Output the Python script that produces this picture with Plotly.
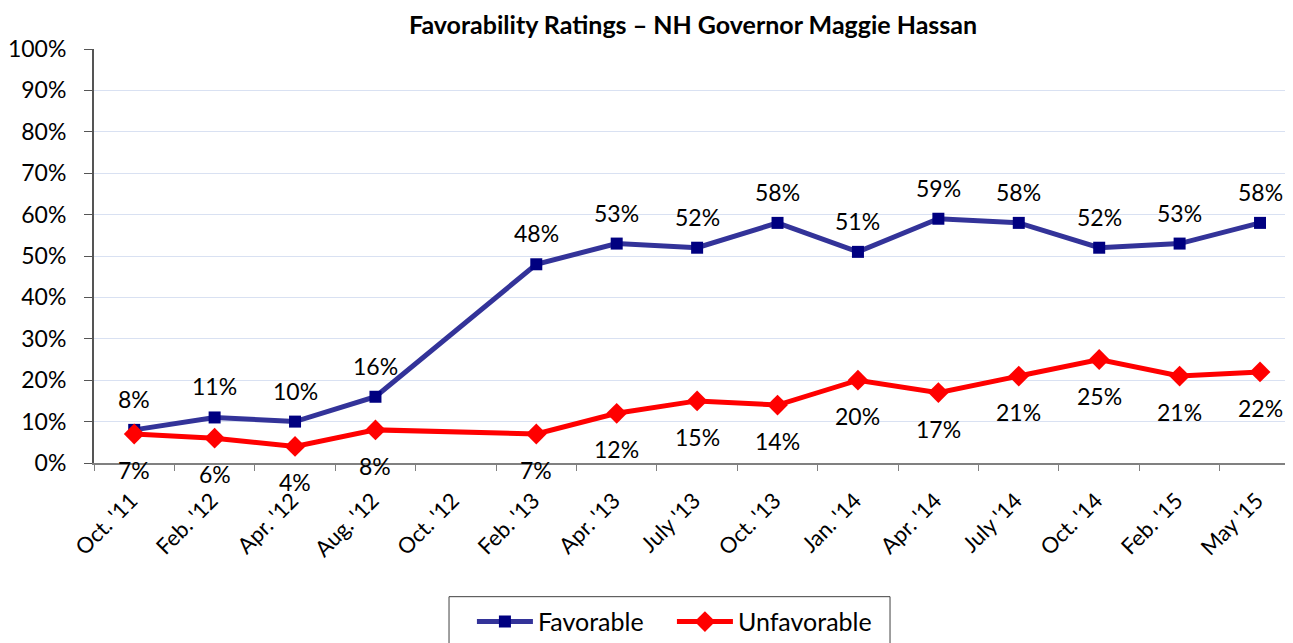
import plotly.graph_objects as go

categories = ["Oct. '11", "Feb. '12", "Apr. '12", "Aug. '12", "Oct. '12", "Feb. '13", "Apr. '13",
              "July '13", "Oct. '13", "Jan. '14", "Apr. '14", "July '14", "Oct. '14", "Feb. '15", "May '15"]
favorable = [8, 11, 10, 16, None, 48, 53, 52, 58, 51, 59, 58, 52, 53, 58]
unfavorable = [7, 6, 4, 8, None, 7, 12, 15, 14, 20, 17, 21, 25, 21, 22]
y_ticks = list(range(0, 101, 10))

FONT = "Lato, Calibri, Carlito, sans-serif"

fig = go.Figure()
fig.add_trace(go.Scatter(
    x=categories, y=favorable, name="Favorable", mode="lines+markers",
    connectgaps=True,
    line=dict(color="#333399", width=5),
    marker=dict(symbol="square", size=12, color="#000080"),
))
fig.add_trace(go.Scatter(
    x=categories, y=unfavorable, name="Unfavorable", mode="lines+markers",
    connectgaps=True,
    line=dict(color="#FF0000", width=5),
    marker=dict(symbol="diamond", size=16, color="#FF0000"),
))

annotations = []
for c, v in zip(categories, favorable):
    if v is not None:
        annotations.append(dict(x=c, y=v, text=f"{v}%", showarrow=False, yshift=31,
                                font=dict(family=FONT, size=23, color="#000000")))
for c, v in zip(categories, unfavorable):
    if v is not None:
        annotations.append(dict(x=c, y=v, text=f"{v}%", showarrow=False, yshift=-36,
                                font=dict(family=FONT, size=23, color="#000000")))

fig.update_layout(
    width=1293, height=643,
    paper_bgcolor="white", plot_bgcolor="white",
    margin=dict(l=86, r=8, t=41, b=187),
    title=dict(text="<b>Favorability Ratings – NH Governor Maggie Hassan</b>",
               x=0.5298, xanchor="center", y=0.9736, yanchor="middle",
               font=dict(family=FONT, size=25, color="#000000")),
    font=dict(family=FONT, size=23, color="#000000"),
    showlegend=True,
    legend=dict(orientation="h", x=0.3152, xanchor="left", y=-0.3248, yanchor="top",
                borderwidth=0, bgcolor="rgba(0,0,0,0)",
                font=dict(family=FONT, size=25, color="#000000"),
                itemwidth=56, entrywidth=129),
    shapes=[dict(type="rect", xref="paper", yref="paper",
                 x0=0.2961, x1=0.6639, y0=-0.3229, y1=-0.52,
                 line=dict(color="#404040", width=1), fillcolor="rgba(0,0,0,0)", layer="below")],
    annotations=annotations,
)
fig.update_xaxes(
    type="category", range=[-0.5, 14.41], automargin=False,
    tickangle=-45, tickson="boundaries", ticks="outside", ticklen=6, tickcolor="#808080",
    ticklabelstandoff=14, ticklabelshift=-3,
    showline=True, linecolor="#808080", linewidth=2, showgrid=False,
    tickfont=dict(family=FONT, size=22, color="#000000"),
)
fig.update_yaxes(
    range=[0, 100], tickvals=y_ticks, ticktext=[f"{t}%" for t in y_ticks], automargin=False,
    ticks="outside", ticklen=8, tickcolor="#555555", ticklabelstandoff=13,
    showline=True, linecolor="#555555", linewidth=2,
    showgrid=True, gridcolor="#D9E1F2", gridwidth=1, zeroline=False,
    tickfont=dict(family=FONT, size=23, color="#000000"),
)

fig.write_html("out.html")
